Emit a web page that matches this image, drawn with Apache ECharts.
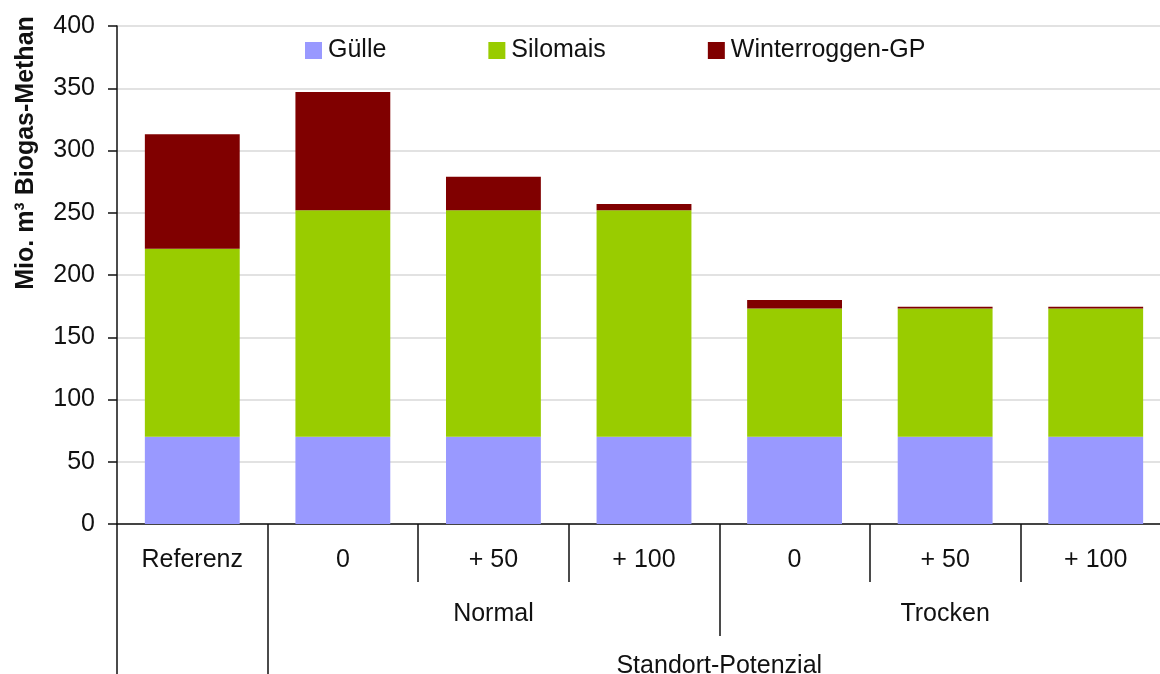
<!DOCTYPE html>
<html lang="de">
<head>
	<meta charset="utf-8">
	<title>Biogas-Methan</title>
	<script src="https://cdn.jsdelivr.net/npm/echarts@6/dist/echarts.min.js"></script>
	<style>
		html, body { margin:0; padding:0; background:#fff; }
		#chart { width:1160px; height:674px; }
	</style>
</head>
<body>
<div id="chart"></div>
<script>
// Kategorien (unterste Ebene) und Gruppen
var categories = ['Referenz', '0', '+ 50', '+ 100', '0', '+ 50', '+ 100'];
var groupLabels = ['', '', 'Normal', '', '', 'Trocken', ''];
var topLabels = ['', '', '', '', 'Standort-Potenzial', '', '', ''];

// Werte in Mio. m³
var guelle = [70, 70, 70, 70, 70, 70, 70];
var silomais = [151, 182, 182, 182, 103, 103, 103];
var winterroggen = [92, 95, 27, 5, 7, 1.5, 1.5];

var yTicks = { min: 0, max: 400, interval: 50 };

var font = "'Liberation Sans', Arial, sans-serif";
var black = '#111';

var chart = echarts.init(document.getElementById('chart'));

function bar(name, data, color) {
	return {
		name: name,
		type: 'bar',
		stack: 'gesamt',
		barCategoryGap: '37%',
		itemStyle: { color: color },
		data: data
	};
}

chart.setOption({
	animation: false,
	textStyle: { fontFamily: font },
	grid: { left: 117, right: -11, top: 26, bottom: 150, containLabel: false, outerBoundsMode: 'none' },
	legend: {
		left: 300,
		top: 33,
		itemWidth: 17,
		itemHeight: 17,
		itemGap: 102,
		icon: 'rect',
		textStyle: { fontSize: 25, color: black, fontFamily: font, padding: [0, 0, 0, 1] },
		data: ['Gülle', 'Silomais', 'Winterroggen-GP']
	},
	graphic: [{
		type: 'text',
		x: 26,
		y: 153,
		rotation: Math.PI / 2,
		style: {
			text: 'Mio. m³ Biogas-Methan',
			font: 'bold 25px ' + font,
			fill: black,
			textAlign: 'center',
			textVerticalAlign: 'middle'
		}
	}],
	xAxis: [
		{
			type: 'category',
			data: categories,
			position: 'bottom',
			axisLine: { show: true, lineStyle: { color: black, width: 1.5 } },
			axisTick: { show: true, length: 58, lineStyle: { color: black, width: 1.5 } },
			axisLabel: { interval: 0, margin: 24, fontSize: 25, color: black },
			splitLine: { show: false }
		},
		{
			type: 'category',
			data: groupLabels,
			position: 'bottom',
			axisLine: { show: false },
			axisTick: {
				show: true,
				length: 112,
				interval: function (idx) { return idx === 0 || idx === 1 || idx === 4; },
				lineStyle: { color: black, width: 1.5 }
			},
			axisLabel: { interval: 0, margin: 78, fontSize: 25, color: black },
			splitLine: { show: false }
		},
		{
			type: 'category',
			data: topLabels,
			boundaryGap: false,
			position: 'bottom',
			axisLine: { show: false },
			axisTick: {
				show: true,
				length: 160,
				interval: function (idx) { return idx === 0 || idx === 1; },
				lineStyle: { color: black, width: 1.5 }
			},
			axisLabel: { interval: 0, margin: 130, fontSize: 25, color: black },
			splitLine: { show: false }
		}
	],
	yAxis: {
		type: 'value',
		min: yTicks.min,
		max: yTicks.max,
		interval: yTicks.interval,
		axisLine: { show: true, lineStyle: { color: black, width: 1.5 } },
		axisTick: { show: true, length: 9, lineStyle: { color: black, width: 1.5 } },
		axisLabel: { margin: 22, fontSize: 25, color: black },
		splitLine: { show: true, lineStyle: { color: '#D9D9D9', width: 1.5 } }
	},
	series: [
		bar('Gülle', guelle, '#9999FF'),
		bar('Silomais', silomais, '#99CC00'),
		bar('Winterroggen-GP', winterroggen, '#800000')
	]
});
</script>
</body>
</html>
